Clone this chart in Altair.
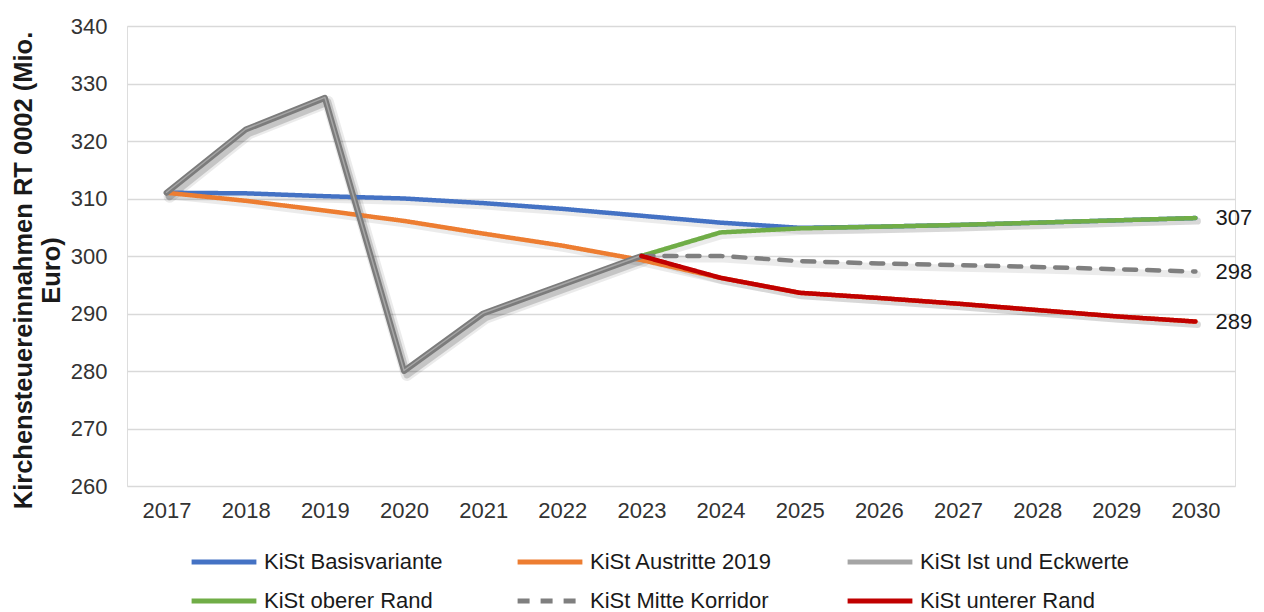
import altair as alt
import pandas as pd

years = [str(y) for y in range(2017, 2031)]

basis     = [311.0, 310.9, 310.4, 310.0, 309.2, 308.2, 307.0, 305.8, 304.9, 305.1, 305.4, 305.8, 306.2, 306.6]
austritte = [311.0, 309.6, 307.9, 306.1, 303.9, 301.8, 299.3, 296.2, 293.6, 292.7, 291.7, 290.6, 289.5, 288.6]
ist       = [311.0, 322.0, 327.5, 280.0, 290.0, 295.0, 300.0, None, None, None, None, None, None, None]
oberer    = [None, None, None, None, None, None, 300.0, 304.1, 304.8, 305.1, 305.4, 305.8, 306.2, 306.6]
mitte     = [None, None, None, None, None, None, 300.0, 300.0, 299.1, 298.7, 298.4, 298.1, 297.7, 297.3]
unterer   = [None, None, None, None, None, None, 300.0, 296.2, 293.6, 292.7, 291.7, 290.6, 289.5, 288.6]

series_names = ["KiSt Basisvariante", "KiSt Austritte 2019", "KiSt Ist und Eckwerte",
                "KiSt oberer Rand", "KiSt Mitte Korridor", "KiSt unterer Rand"]
series_values = [basis, austritte, ist, oberer, mitte, unterer]
series_colors = ["#4472C4", "#ED7D31", "#A5A5A5", "#70AD47", "#7F7F7F", "#C00000"]
series_dash = [[1, 0], [1, 0], [1, 0], [1, 0], [12, 11], [1, 0]]

end_series = ["KiSt oberer Rand", "KiSt Mitte Korridor", "KiSt unterer Rand"]
end_labels = ["307", "298", "289"]

y_ticks = [260, 270, 280, 290, 300, 310, 320, 330, 340]

rows = []
for name, vals in zip(series_names, series_values):
    for yr, v in zip(years, vals):
        if v is not None:
            rows.append({"Jahr": yr, "Wert": v, "Serie": name})
df = pd.DataFrame(rows)

lab_rows = []
for name, lab in zip(end_series, end_labels):
    vals = series_values[series_names.index(name)]
    lab_rows.append({"Jahr": years[-1], "Wert": vals[-1], "Label": lab})
lab_df = pd.DataFrame(lab_rows)

FONT = "Liberation Sans"

x_enc = alt.X("Jahr:O", scale=alt.Scale(type="point", padding=0.5),
              axis=alt.Axis(title=None, labelAngle=0, labelFontSize=22, labelFont=FONT,
                            labelColor="#333333", labelPadding=14, domain=False, ticks=False,
                            grid=False))
y_enc = alt.Y("Wert:Q", scale=alt.Scale(domain=[260, 340], nice=False, zero=False),
              axis=alt.Axis(values=y_ticks, title=["Kirchensteuereinnahmen RT 0002 (Mio.", "Euro)"],
                            titleFontSize=25.5, titleFont=FONT, titleFontWeight="bold",
                            titleColor="#1a1a1a", titleAngle=-90, titleAlign="center",
                            titleBaseline="top", titleX=-116, titleY=244, titleLineHeight=28,
                            labelFontSize=22, labelFont=FONT, labelColor="#333333",
                            labelPadding=20, domain=False, ticks=False,
                            grid=True, gridColor="#d9d9d9", gridWidth=1.5))

legend = alt.Legend(title=None, orient="none", legendX=62, legendY=525, columns=3,
                    symbolType="stroke", symbolSize=4200, symbolStrokeWidth=5,
                    labelFontSize=22, labelFont=FONT, labelColor="#1a1a1a", labelLimit=0,
                    labelOffset=5, columnPadding=72, rowPadding=17, padding=0,
                    clipHeight=22, direction="horizontal")

color_enc = alt.Color("Serie:N", scale=alt.Scale(domain=series_names, range=series_colors),
                      legend=legend)
dash_enc = alt.StrokeDash("Serie:N", scale=alt.Scale(domain=series_names, range=series_dash),
                          legend=legend)

base = alt.Chart(df)

shadow = base.mark_line(color="#000000", opacity=0.08, strokeWidth=7, xOffset=2, yOffset=3,
                        strokeCap="round", strokeJoin="round").encode(
    x=x_enc, y=y_enc, detail="Serie:N"
).transform_filter(alt.datum.Serie != "KiSt Ist und Eckwerte")

shadow_ist_wide = base.mark_line(color="#000000", opacity=0.08, strokeWidth=12, xOffset=3, yOffset=4,
                                 strokeCap="round", strokeJoin="round").encode(
    x=x_enc, y=y_enc
).transform_filter(alt.datum.Serie == "KiSt Ist und Eckwerte")
shadow_ist = base.mark_line(color="#000000", opacity=0.16, strokeWidth=7, xOffset=3, yOffset=4,
                            strokeCap="round", strokeJoin="round").encode(
    x=x_enc, y=y_enc
).transform_filter(alt.datum.Serie == "KiSt Ist und Eckwerte")

def series_layer(name, width=4.5):
    return base.mark_line(strokeWidth=width, strokeCap="round", strokeJoin="round").encode(
        x=x_enc, y=y_enc, color=color_enc, strokeDash=dash_enc
    ).transform_filter(alt.datum.Serie == name)

ist_main = base.mark_line(strokeWidth=6, strokeCap="round", strokeJoin="round",
                          color="#7c7c7c").encode(
    x=x_enc, y=y_enc
).transform_filter(alt.datum.Serie == "KiSt Ist und Eckwerte")
ist_high = base.mark_line(strokeWidth=1.5, strokeCap="round", strokeJoin="round",
                          color="#a6a6a6", yOffset=-0.5).encode(
    x=x_enc, y=y_enc
).transform_filter(alt.datum.Serie == "KiSt Ist und Eckwerte")

texts = alt.Chart(lab_df).mark_text(align="left", baseline="middle", dx=20, fontSize=22,
                                    font=FONT, color="#1a1a1a").encode(
    x=alt.X("Jahr:O", scale=alt.Scale(type="point", padding=0.5)),
    y=alt.Y("Wert:Q"),
    text="Label:N"
)

chart = alt.layer(
    shadow, shadow_ist_wide, shadow_ist,
    series_layer("KiSt Basisvariante"),
    series_layer("KiSt Austritte 2019"),
    ist_main, ist_high,
    series_layer("KiSt oberer Rand"),
    series_layer("KiSt Mitte Korridor"),
    series_layer("KiSt unterer Rand"),
    texts
).properties(
    width=1108, height=460,
    padding={"left": 119, "top": 18, "right": 21, "bottom": 126},
    autosize=alt.AutoSizeParams(type="none")
).configure_view(stroke=None).configure(background="#ffffff")

chart.save("out.html", embed_options={"renderer": "svg", "actions": False})
